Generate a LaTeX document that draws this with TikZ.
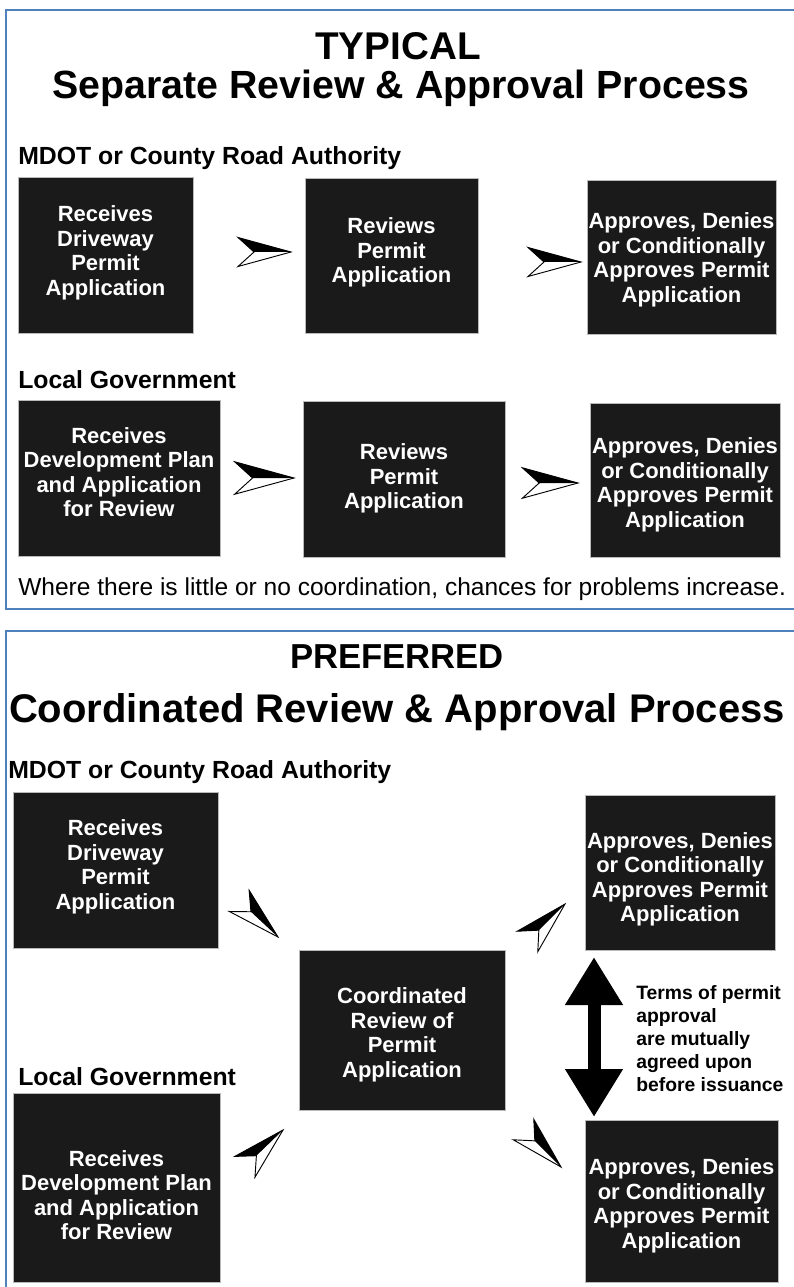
\documentclass[tikz,border=0pt]{standalone}
\usepackage{fontspec}
\setmainfont{Liberation Sans}
\usetikzlibrary{fit,arrows.meta}
\definecolor{frameblue}{HTML}{4F81BD}
\definecolor{boxfill}{HTML}{1A1A1A}
\begin{document}
\begin{tikzpicture}[x=0.75pt,y=-0.75pt,
  box/.style={draw=gray!55,line width=0.6pt,fill=boxfill,inner sep=0pt},
  boxtext/.style={inner sep=0pt,text=white,align=center,
    font=\bfseries\fontsize{16.5}{18.4}\selectfont},
  heading/.style={anchor=base west,inner sep=0pt,font=\bfseries\fontsize{18.6}{22}\selectfont},
  title/.style={anchor=base,inner sep=0pt,font=\bfseries\fontsize{29.5}{30}\selectfont},
  bigtitle/.style={anchor=base,inner sep=0pt,font=\bfseries\fontsize{30}{32}\selectfont},
  note/.style={anchor=base west,inner sep=0pt,font=\fontsize{18.4}{22}\selectfont},
  terms/.style={anchor=north west,inner sep=0pt,align=left,font=\bfseries\fontsize{14.5}{17.25}\selectfont},
  frame/.style={draw=frameblue,line width=1.9pt},
  dart/.pic={
    \filldraw[fill=white,draw=black,line width=0.7pt,line join=miter]
      (0,0) -- (-53,-14.5) -- (-37,0) -- (-53,14.5) -- cycle;
    \fill[black] (0,0) -- (-53,-14.5) -- (-37,0) -- cycle;
  },
  agree/.style={line width=9.75pt,
    arrows={Triangle[length=36pt,width=41pt]-Triangle[length=36pt,width=41pt]}}
]
\useasboundingbox (0,0) rectangle (793,1287);
\fill[white] (0,0) rectangle (793,1287);

% panel frames (open on the right)
\draw[frame] (800,10) -- (6,10) -- (6,609) -- (800,609);
\draw[frame] (800,631) -- (6,631) -- (6,1300);

% ---------- upper panel: separate process ----------
\node[title,font=\bfseries\fontsize{29}{30}\selectfont] (t1) at (398,60) {TYPICAL};
\node[title] (t2) at (401,99) {Separate Review \& Approval Process};

\node[heading] (h1) at (18,165) {MDOT or County Road Authority};
\node[box,fit={(18,177)(193,333)}] (a1) {};
\node[box,fit={(305,178)(478,333)}] (a2) {};
\node[box,fit={(587,180)(776,334)}] (a3) {};
\node[boxtext] (a1t) at ([yshift=1.5pt]a1.center) {Receives\\Driveway\\Permit\\Application};
\node[boxtext] (a2t) at ([yshift=2.25pt]a2.center) {Reviews\\Permit\\Application};
\node[boxtext] (a3t) at ([yshift=-2.25pt]a3.center) {Approves, Denies\\or Conditionally\\Approves Permit\\Application};

\node[heading] (h2) at (18,388) {Local Government};
\node[box,fit={(18,400)(220,556)}] (b1) {};
\node[box,fit={(303,401)(505,557)}] (b2) {};
\node[box,fit={(590,403)(780,557)}] (b3) {};
\node[boxtext] (b1t) at ([yshift=4.5pt]b1.center) {Receives\\Development Plan\\and Application\\for Review};
\node[boxtext] (b2t) at ([yshift=0.5pt]b2.center) {Reviews\\Permit\\Application};
\node[boxtext] (b3t) at ([yshift=-3.75pt]b3.center) {Approves, Denies\\or Conditionally\\Approves Permit\\Application};

\pic at (291,252) {dart};
\pic at (581,262) {dart};
\pic[scale=1.12] at (294,478) {dart};
\pic[scale=1.05] at (578,483) {dart};

\node[note] (n1) at (18,595) {Where there is little or no coordination, chances for problems increase.};

% ---------- lower panel: coordinated process ----------
\node[bigtitle,font=\bfseries\fontsize{26}{28}\selectfont] (t3) at (397,668) {PREFERRED};
\node[bigtitle] (t4) at (397,722) {Coordinated Review \& Approval Process};

\node[heading] (h3) at (8,778) {MDOT or County Road Authority};
\node[box,fit={(13,792)(218,948)}] (c1) {};
\node[box,fit={(299,950)(505,1110)}] (c2) {};
\node[box,fit={(585,795)(775,950)}] (c3) {};
\node[boxtext] (c1t) at ([yshift=2.25pt]c1.center) {Receives\\Driveway\\Permit\\Application};
\node[boxtext] (c2t) at ([yshift=-3.5pt]c2.center) {Coordinated\\Review of\\Permit\\Application};
\node[boxtext] (c3t) at ([yshift=-5pt]c3.center) {Approves, Denies\\or Conditionally\\Approves Permit\\Application};

\node[heading] (h4) at (18,1085) {Local Government};
\node[box,fit={(13,1093)(220,1282)}] (c4) {};
\node[box,fit={(585,1120)(778,1282)}] (c5) {};
\node[boxtext] (c4t) at ([yshift=-5.75pt]c4.center) {Receives\\Development Plan\\and Application\\for Review};
\node[boxtext] (c5t) at ([yshift=-3.5pt]c5.center) {Approves, Denies\\or Conditionally\\Approves Permit\\Application};

\pic[rotate=-43] at (278,937) {dart};
\pic[rotate=45] at (565,904) {dart};
\pic[rotate=44] at (283,1130) {dart};
\pic[rotate=-45] at (561,1167) {dart};

\coordinate (agreetop) at (594,957);
\coordinate (agreebot) at (594,1117);
\draw[agree] (agreetop) -- (agreebot);

\node[terms] (tx) at (636,985) {Terms of permit\\approval\\are mutually\\agreed upon\\before issuance};
\end{tikzpicture}
\end{document}
